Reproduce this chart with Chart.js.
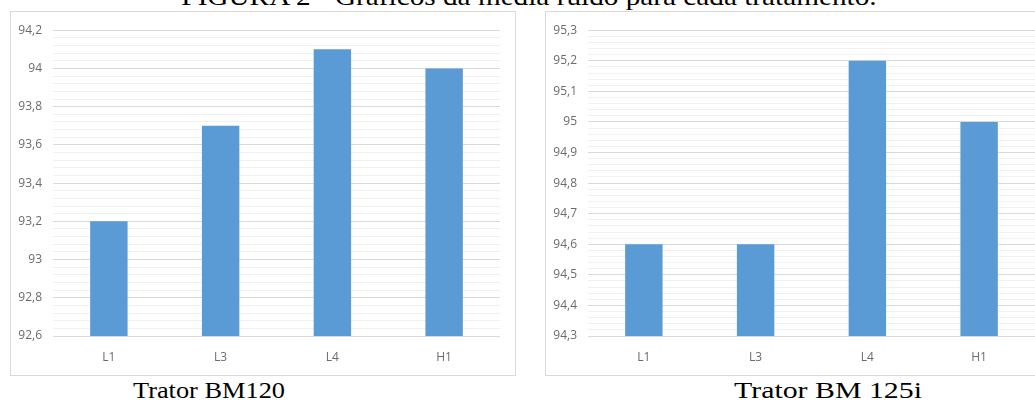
<!DOCTYPE html>
<html><head><meta charset="utf-8">
<script src="https://cdn.jsdelivr.net/npm/chart.js@4.4.1/dist/chart.umd.min.js"></script>
<style>
html,body{margin:0;padding:0;background:#fff;overflow:hidden;width:1035px;height:403px;}
.box{position:absolute;box-sizing:border-box;border:1px solid #d9d9d9;background:#fff;}
.box canvas{position:absolute;left:0;top:0;}
.txt{position:absolute;font-family:"Liberation Serif","Times New Roman",serif;color:#000;white-space:nowrap;line-height:1;transform-origin:center;}
</style></head><body>
<div class="txt" id="title" style="font-size:25px;left:529px;top:-16px;transform:translateX(-50%) scaleX(1.17);">FIGURA 2 - Gráficos da média ruído para cada tratamento.</div>
<div class="box" style="left:10px;top:11px;width:506px;height:365px;"><canvas id="c1" width="504" height="363" style="width:504px;height:363px"></canvas></div>
<div class="box" style="left:545px;top:11px;width:506px;height:365px;"><canvas id="c2" width="504" height="363" style="width:504px;height:363px"></canvas></div>
<div class="txt" style="font-size:23px;left:209px;top:378.7px;transform:translateX(-50%) scaleX(1.146);">Trator BM120</div>
<div class="txt" style="font-size:23px;left:827.5px;top:378.7px;transform:translateX(-50%) scaleX(1.297);">Trator BM 125i</div>
<script>
const categories = ['L1', 'L3', 'L4', 'H1'];
const bm120Values = [93.2, 93.7, 94.1, 94.0];
const bm125iValues = [94.6, 94.6, 95.2, 95.0];
const bm120YTicks = [92.6, 92.8, 93.0, 93.2, 93.4, 93.6, 93.8, 94.0, 94.2];
const bm120YLabels = ['92,6', '92,8', '93', '93,2', '93,4', '93,6', '93,8', '94', '94,2'];
const bm125iYTicks = [94.3, 94.4, 94.5, 94.6, 94.7, 94.8, 94.9, 95.0, 95.1, 95.2, 95.3];
const bm125iYLabels = ['94,3', '94,4', '94,5', '94,6', '94,7', '94,8', '94,9', '95', '95,1', '95,2', '95,3'];
const bm120MinorStep = 0.04;
const bm125iMinorStep = 0.02;

function labelFor(v, ticks, labels) {
  for (let i = 0; i < ticks.length; i++) {
    if (Math.abs(ticks[i] - v) < 1e-6) return labels[i];
  }
  return '';
}

function makeChart(id, values, ticks, labels, minorStep) {
  const axisFont = {family: '"Open Sans", "Liberation Sans", sans-serif', size: 12};
  return new Chart(document.getElementById(id), {
    type: 'bar',
    data: {
      labels: categories,
      datasets: [{
        data: values,
        backgroundColor: '#5b9bd5',
        borderWidth: 0,
        categoryPercentage: 1,
        barPercentage: 0.335
      }]
    },
    options: {
      responsive: false,
      animation: false,
      events: [],
      layout: {padding: {top: 17, right: 15, left: 0, bottom: 0}},
      plugins: {legend: {display: false}, tooltip: {enabled: false}, title: {display: false}},
      scales: {
        x: {
          grid: {display: false, drawTicks: false},
          border: {display: false},
          ticks: {color: '#6b6b6b', font: axisFont, padding: 14},
          afterFit: (s) => { s.height = 39; }
        },
        y: {
          min: ticks[0],
          max: ticks[ticks.length - 1],
          border: {display: false},
          grid: {
            drawTicks: false,
            color: (ctx) => labelFor(ctx.tick ? ctx.tick.value : NaN, ticks, labels) !== '' ? '#d9d9d9' : '#f1f1f1'
          },
          ticks: {
            stepSize: minorStep,
            autoSkip: false,
            color: '#6b6b6b',
            font: axisFont,
            padding: 11,
            callback: (v) => labelFor(v, ticks, labels)
          },
          afterFit: (s) => { s.width = 42; }
        }
      }
    }
  });
}

makeChart('c1', bm120Values, bm120YTicks, bm120YLabels, bm120MinorStep);
makeChart('c2', bm125iValues, bm125iYTicks, bm125iYLabels, bm125iMinorStep);
</script>
</body></html>
